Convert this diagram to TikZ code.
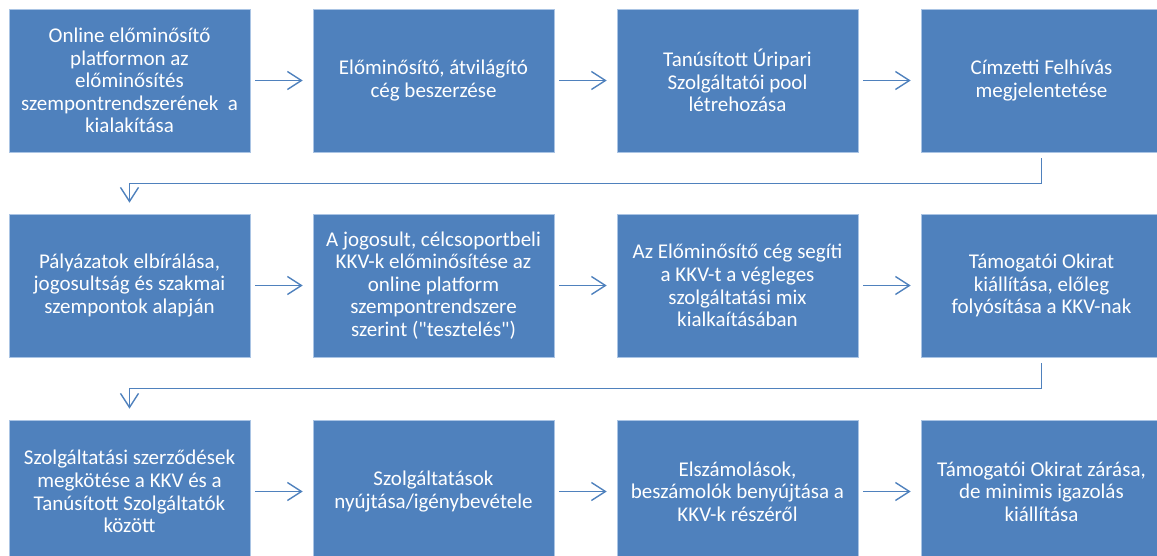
\documentclass[tikz,border=0pt]{standalone}
\usepackage{fontspec}
\setmainfont{Carlito}[Ligatures=TeXOff]
\usetikzlibrary{arrows.meta}
\definecolor{boxblue}{RGB}{79,129,189}
\definecolor{edgeblue}{RGB}{170,196,228}
\tikzset{
  every path/.style={
    line width=1.4pt
  },
  lepes/.style={
    draw=edgeblue,
    line width=0.6pt,
    fill=boxblue,
    text=white,
    minimum width=241pt,
    minimum height=143pt,
    align=center,
    inner sep=0pt,
    font=\fontsize{21}{22.6}\selectfont
  },
  nyil/.style={
    boxblue,
    -{Straight Barb[length=14pt,width=18pt,line width=1.4pt]},
    shorten <=5pt,
    shorten >=10pt
  }
}

\begin{document}
\begin{tikzpicture}[x=1pt, y=-1pt]
    \useasboundingbox (0,0) rectangle (1157,556);

    % 1. sor
    \node[lepes] (A1) at (129.5,80.5) {Online előminősítő\\platformon az\\előminősítés\\szempontrendszerének\ \ a\\kialakítása};
    \node[lepes] (A2) at (433.5,80.5) {Előminősítő, átvilágító\\cég beszerzése};
    \node[lepes] (A3) at (737.5,80.5) {Tanúsított Úripari\\Szolgáltatói pool\\létrehozása};
    \node[lepes] (A4) at (1041.5,80.5) {Címzetti Felhívás\\megjelentetése};

    % 2. sor
    \node[lepes] (B1) at (129.5,285.5) {Pályázatok elbírálása,\\jogosultság és szakmai\\szempontok alapján};
    \node[lepes] (B2) at (433.5,285.5) {A jogosult, célcsoportbeli\\KKV-k előminősítése az\\online platform\\szempontrendszere\\szerint ("tesztelés")};
    \node[lepes] (B3) at (737.5,285.5) {Az Előminősítő cég segíti\\a KKV-t a végleges\\szolgáltatási mix\\kialkaításában};
    \node[lepes] (B4) at (1041.5,285.5) {Támogatói Okirat\\kiállítása, előleg\\folyósítása a KKV-nak};

    % 3. sor
    \node[lepes] (C1) at (129.5,491.5) {Szolgáltatási szerződések\\megkötése a KKV és a\\Tanúsított Szolgáltatók\\között};
    \node[lepes] (C2) at (433.5,491.5) {Szolgáltatások\\nyújtása/igénybevétele};
    \node[lepes] (C3) at (737.5,491.5) {Elszámolások,\\beszámolók benyújtása a\\KKV-k részéről};
    \node[lepes] (C4) at (1041.5,491.5) {Támogatói Okirat zárása,\\de minimis igazolás\\kiállítása};

    % nyilak
    \draw[nyil] (A1) -- (A2);
    \draw[nyil] (A2) -- (A3);
    \draw[nyil] (A3) -- (A4);
    \draw[nyil, shorten <=6pt, shorten >=11pt] (A4.south) -- ++(0,31) -| (B1.north);
    \draw[nyil] (B1) -- (B2);
    \draw[nyil] (B2) -- (B3);
    \draw[nyil] (B3) -- (B4);
    \draw[nyil, shorten <=6pt, shorten >=11pt] (B4.south) -- ++(0,31) -| (C1.north);
    \draw[nyil] (C1) -- (C2);
    \draw[nyil] (C2) -- (C3);
    \draw[nyil] (C3) -- (C4);
\end{tikzpicture}
\end{document}
